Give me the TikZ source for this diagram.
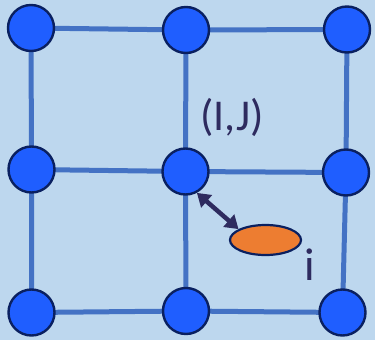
\documentclass[tikz,border=0pt]{standalone}
\usepackage{fontspec}
\setmainfont{Carlito}
\usetikzlibrary{arrows.meta,shapes.geometric}
\definecolor{bg}{HTML}{BDD7EE}
\definecolor{dotfill}{HTML}{1F5EFF}
\definecolor{dotedge}{HTML}{0A2060}
\definecolor{gridline}{HTML}{4472C4}
\definecolor{ink}{HTML}{2E2B5F}
\definecolor{orng}{HTML}{ED7D31}
\tikzset{
  site/.style={circle, fill=dotfill, draw=dotedge, line width=2.4pt, minimum size=46pt, inner sep=0pt},
  bond/.style={draw=gridline, line width=5pt},
  particle/.style={ellipse, fill=orng, draw=dotedge, line width=2.2pt, minimum width=71pt, minimum height=30pt, inner sep=0pt},
  lbl/.style={text=ink, inner sep=0pt},
  link/.style={draw=ink, line width=4.5pt, {Triangle[length=13pt,width=16pt]}-{Triangle[length=13pt,width=16pt]}}
}
\begin{document}
\begin{tikzpicture}[x=1pt,y=-1pt]
\fill[bg] (0,0) rectangle (375,340);
\useasboundingbox (0,0) rectangle (375,340);
\coordinate (p11) at (31,28);
\coordinate (p12) at (186,30);
\coordinate (p13) at (347,29.5);
\coordinate (p21) at (31.5,169.5);
\coordinate (p22) at (185.5,171.5);
\coordinate (p23) at (346,172.5);
\coordinate (p31) at (31.5,312.5);
\coordinate (p32) at (186,311);
\coordinate (p33) at (342.5,312.5);
\path[bond] (p11) -- (p12) (p12) -- (p13)
  (p21) -- (p22) (p22) -- (p23)
  (p31) -- (p32) (p32) -- (p33)
  (p11) -- (p21) (p21) -- (p31)
  (p12) -- (p22) (p22) -- (p32)
  (p13) -- (p23) (p23) -- (p33);
\node[site] (n11) at (p11) {};
\node[site] (n12) at (p12) {};
\node[site] (n13) at (p13) {};
\node[site] (n21) at (p21) {};
\node[site] (n22) at (p22) {};
\node[site] (n23) at (p23) {};
\node[site] (n31) at (p31) {};
\node[site] (n32) at (p32) {};
\node[site] (n33) at (p33) {};
\node[particle] (e) at (265.5,240) {};
\path[link] (n22.-62) -- (e.158);
\node[lbl, font=\fontsize{44}{46}\selectfont] (ij) at (232,117) {(I,J)};
\node[lbl, font=\fontsize{46}{48}\selectfont, anchor=base] (i) at (310,280) {i};
\end{tikzpicture}
\end{document}
